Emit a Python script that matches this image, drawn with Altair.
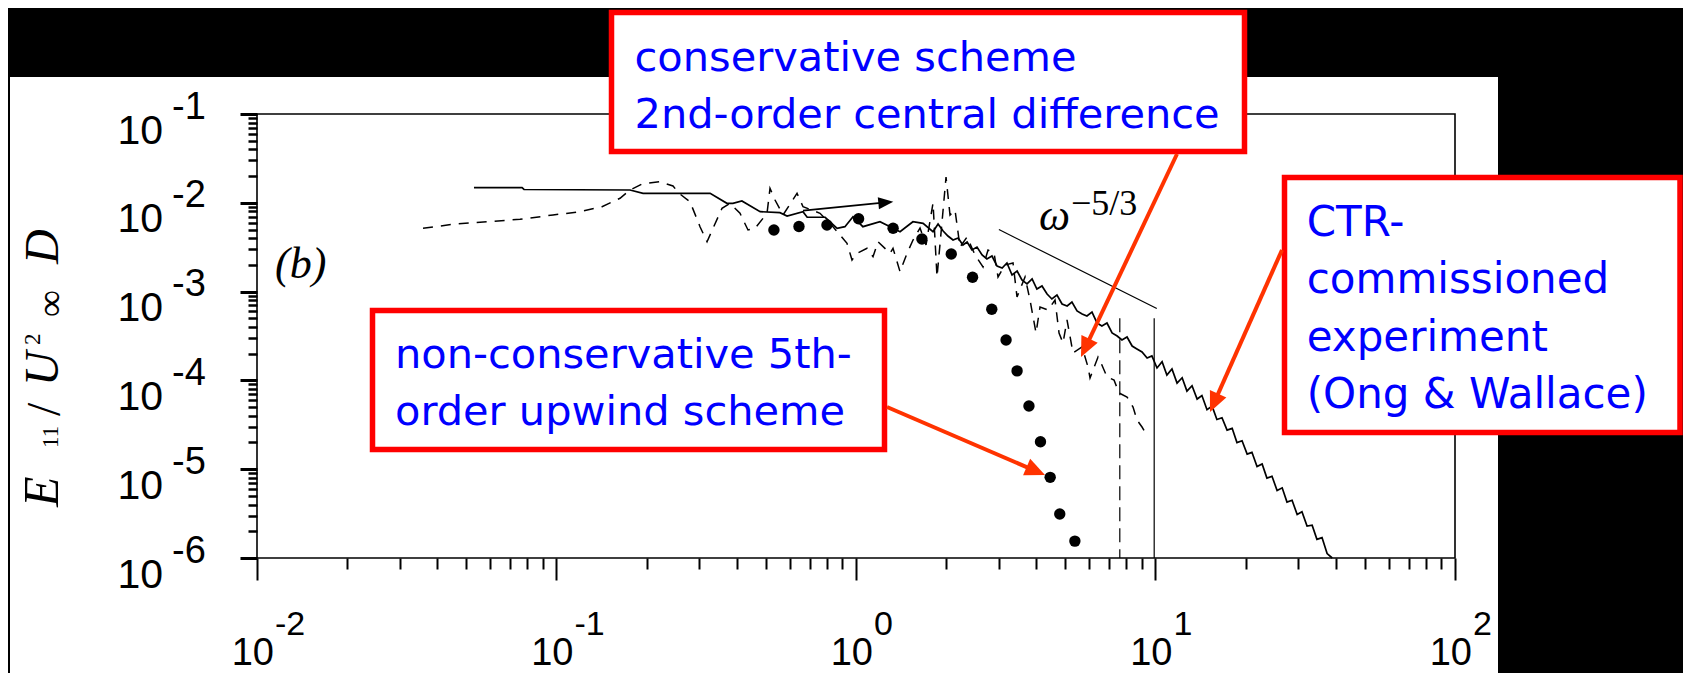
import math
import altair as alt
import pandas as pd

# ---------------- values ----------------
# CTR-commissioned experiment (solid line): log10(omega), log10(E11/U^2 D)
ctr_log_omega = [
    -1.2755, -1.115, -1.1085, -0.7546, -0.711, -0.487, -0.431, -0.411, -0.381, -0.320,
    -0.254, -0.230, -0.177, -0.163, -0.103, -0.063, -0.037, -0.010, 0.023, 0.080,
    0.114, 0.147, 0.190, 0.224, 0.257, 0.274, 0.291, 0.307, 0.324, 0.341,
    0.357, 0.371, 0.387, 0.404, 0.421, 0.437, 0.454, 0.471, 0.488, 0.504,
    0.521, 0.538, 0.554, 0.571, 0.588, 0.604, 0.621, 0.638, 0.654, 0.671,
    0.688, 0.705, 0.721, 0.738, 0.755, 0.771, 0.788, 0.805, 0.821, 0.838,
    0.855, 0.872, 0.888, 0.905, 0.922, 0.938, 0.955, 0.972, 0.988, 1.005,
    1.022, 1.038, 1.055, 1.072, 1.089, 1.105, 1.122, 1.139, 1.155, 1.172,
    1.189, 1.205, 1.222, 1.239, 1.256, 1.272, 1.289, 1.306, 1.322, 1.339,
    1.356, 1.372, 1.389, 1.406, 1.423, 1.439, 1.456, 1.473, 1.489, 1.506,
    1.523, 1.539, 1.556, 1.573, 1.590,
]
ctr_log_energy = [
    -1.830, -1.830, -1.850, -1.856, -1.893, -1.893, -2.006, -2.006, -1.980, -2.100,
    -2.111, -2.149, -2.100, -2.163, -2.163, -2.287, -2.269, -2.157, -2.269, -2.213,
    -2.269, -2.325, -2.213, -2.231, -2.325, -2.239, -2.318, -2.374, -2.419, -2.396,
    -2.475, -2.441, -2.531, -2.498, -2.588, -2.633, -2.599, -2.712, -2.734, -2.678,
    -2.813, -2.768, -2.869, -2.914, -2.858, -2.971, -2.937, -3.027, -3.083, -3.038,
    -3.140, -3.162, -3.117, -3.218, -3.252, -3.275, -3.230, -3.354, -3.387, -3.354,
    -3.466, -3.500, -3.545, -3.511, -3.613, -3.646, -3.680, -3.748, -3.725, -3.860,
    -3.790, -3.940, -3.870, -4.030, -3.970, -4.120, -4.060, -4.210, -4.170, -4.330,
    -4.290, -4.440, -4.420, -4.560, -4.540, -4.700, -4.680, -4.830, -4.810, -4.970,
    -4.940, -5.100, -5.080, -5.240, -5.210, -5.370, -5.350, -5.510, -5.480, -5.640,
    -5.630, -5.790, -5.770, -5.950, -6.000,
]

# conservative 2nd-order central difference (dashed line): log10 values
cds_log_omega = [
    -1.4457, -1.3456, -1.232, -1.1218, -1.0117, -0.9215, -0.848, -0.7879, -0.7546, -0.7145,
    -0.6544, -0.611, -0.5909, -0.5542, -0.5208, -0.4974, -0.4774, -0.4474, -0.4207, -0.3873,
    -0.3606, -0.3372, -0.2971, -0.2871, -0.2704, -0.2437, -0.1969, -0.1769, -0.1201, -0.0767,
    -0.03, -0.0133, 0.0034, 0.0368, 0.0568, 0.0735, 0.1136, 0.1236, 0.147, 0.1704,
    0.1904, 0.2138, 0.2338, 0.2572, 0.2705, 0.2872, 0.3006, 0.3139, 0.3306, 0.3473,
    0.3707, 0.3974, 0.4241, 0.4408, 0.4608, 0.4742, 0.4976, 0.5243, 0.5376, 0.5644,
    0.581, 0.6011, 0.6144, 0.6411, 0.6645, 0.6779, 0.6912, 0.7046, 0.7246, 0.7547,
    0.7747, 0.7814, 0.8081, 0.8181, 0.8382, 0.8615, 0.8782, 0.9049, 0.925, 0.9383,
    0.955, 0.965,
]
cds_log_energy = [
    -2.2871, -2.2421, -2.2128, -2.1858, -2.1374, -2.1002, -2.0439, -1.9493, -1.8558, -1.7883,
    -1.7624, -1.8108, -1.893, -1.9876, -2.2691, -2.438, -2.2871, -2.0619, -2.0056, -2.1182,
    -2.3063, -2.2871, -2.1182, -1.8367, -1.9684, -2.1374, -1.893, -2.0439, -2.1182, -2.2691,
    -2.456, -2.6441, -2.5687, -2.5124, -2.6069, -2.438, -2.5687, -2.5124, -2.7759, -2.5687,
    -2.4189, -2.2838, -2.4752, -2.0022, -2.8355, -2.2162, -1.7094, -2.1374, -2.0811, -2.4977,
    -2.3851, -2.5878, -2.7229, -2.5315, -2.5653, -2.8355, -2.7004, -2.6779, -3.0608, -2.8355,
    -3.0945, -3.4662, -3.1734, -3.2072, -3.0945, -3.4662, -3.5788, -3.3198, -3.6914, -3.6238,
    -3.849, -3.9729, -3.7364, -3.804, -3.9616, -3.9954, -4.1418, -4.1869, -4.2995, -4.4459,
    -4.5247, -4.581,
]

# non-conservative 5th-order upwind (filled circles)
upwind_omega = [0.532, 0.645, 0.800, 1.02, 1.33, 1.66, 2.08, 2.45,
                2.84, 3.17, 3.45, 3.78, 4.13, 4.45, 4.79, 5.38]
upwind_energy = [4.94e-3, 5.41e-3, 5.62e-3, 6.62e-3, 5.16e-3, 3.91e-3, 2.65e-3, 1.45e-3,
                 6.32e-4, 2.85e-4, 1.28e-4, 5.15e-5, 2.04e-5, 8.1e-6, 3.13e-6, 1.55e-6]

# omega^(-5/3) reference segment
slope_omega = [3.0, 10.1]
slope_energy = [5.0e-3, 6.45e-4]

# cut-off markers
cutoff_dashed_omega = [7.6]
cutoff_solid_omega = [9.9]
cutoff_top_energy = [5.0e-4]

# axis ticks and labels
x_major = [0.01, 0.1, 1, 10, 100]
x_exponents = ["-2", "-1", "0", "1", "2"]
y_major = [1e-1, 1e-2, 1e-3, 1e-4, 1e-5, 1e-6]
y_exponents = ["-1", "-2", "-3", "-4", "-5", "-6"]
x_minor = [m * d for d in (0.01, 0.1, 1, 10) for m in range(2, 10)]
y_minor = [m * d for d in (1e-6, 1e-5, 1e-4, 1e-3, 1e-2) for m in range(2, 10)]

box_texts = {
    "cds": ["conservative scheme", "2nd-order central difference"],
    "up": ["non-conservative 5th-", "order upwind scheme"],
    "ctr": ["CTR-", "commissioned", "experiment", "(Ong & Wallace)"],
}

# ---------------- layout ----------------
W, H = 1198, 444
RED = "#FF0000"
ARROW = "#FF3300"
BLUE = "#0000FF"
SANS = "DejaVu Sans"
TICKFONT = "Liberation Sans, Arial, sans-serif"
SERIF = "Liberation Serif, DejaVu Serif, serif"

xscale = alt.Scale(type="log", domain=[0.01, 100], nice=False)
yscale = alt.Scale(type="log", domain=[1e-6, 0.1], nice=False)


def axis(orient, values, size, width):
    return alt.Axis(orient=orient, values=values, tickSize=size, tickWidth=width,
                    tickColor="black", labels=False, domain=False, grid=False,
                    title=None, zindex=1)


one = pd.DataFrame({"k": [0]})


def px_rect(x1, y1, x2, y2, **mk):
    return alt.Chart(one).mark_rect(**mk).encode(
        x=alt.value(x1), x2=alt.value(x2), y=alt.value(y1), y2=alt.value(y2))


def px_text(x, y, text, **mk):
    return alt.Chart(one).mark_text(text=text, **mk).encode(x=alt.value(x), y=alt.value(y))


def px_arrow(x1, y1, x2, y2, color, width, head_len, head_w):
    dx, dy = x2 - x1, y2 - y1
    L = math.hypot(dx, dy)
    ux, uy = dx / L, dy / L
    unit = head_len / 2.0
    cx, cy = x2 - ux * unit, y2 - uy * unit
    ang = math.degrees(math.atan2(dx, -dy)) % 360
    w = head_w / 2.0 / unit
    path = f"M0,-1L{w:.3f},1L{-w:.3f},1Z"
    shaft = alt.Chart(one).mark_rule(color=color, strokeWidth=width).encode(
        x=alt.value(x1), y=alt.value(y1), x2=alt.value(cx), y2=alt.value(cy))
    head = alt.Chart(one).mark_point(shape=path, filled=True, color=color, opacity=1,
                                     size=(2 * unit) ** 2, angle=ang, strokeWidth=0).encode(
        x=alt.value(cx), y=alt.value(cy))
    return [shaft, head]


ctr = pd.DataFrame({"x": [10 ** v for v, _ in zip(ctr_log_omega, ctr_log_energy)],
                    "y": [10 ** e for _, e in zip(ctr_log_omega, ctr_log_energy)]})
ctr["i"] = range(len(ctr))
cds = pd.DataFrame({"x": [10 ** v for v, _ in zip(cds_log_omega, cds_log_energy)],
                    "y": [10 ** e for _, e in zip(cds_log_omega, cds_log_energy)]})
cds["i"] = range(len(cds))
up = pd.DataFrame({"x": upwind_omega, "y": upwind_energy})
slope = pd.DataFrame({"x": slope_omega, "y": slope_energy})
cut_d = pd.DataFrame({"x": cutoff_dashed_omega, "y": cutoff_top_energy})
cut_s = pd.DataFrame({"x": cutoff_solid_omega, "y": cutoff_top_energy})
xt = pd.DataFrame({"x": x_major, "e": x_exponents})
yt = pd.DataFrame({"y": y_major, "e": y_exponents})

X = lambda ax=None: alt.X("x:Q", scale=xscale, axis=ax)
Y = lambda ax=None: alt.Y("y:Q", scale=yscale, axis=ax)

layers = []
# white panel
layers.append(px_rect(-247, -37, 1241, 570, fill="white", strokeWidth=0))

# data
layers.append(alt.Chart(ctr).mark_line(color="black", strokeWidth=1.7).encode(
    x=X(axis("bottom", x_major, 22, 2)), y=Y(axis("left", y_major, 17, 3)), order="i:Q"))
layers.append(alt.Chart(up).mark_point(shape="circle", filled=True, color="black",
                                       size=130, opacity=1).encode(
    x=X(axis("bottom", x_minor, 11, 2)), y=Y(axis("left", y_minor, 9, 2.5))))
layers.append(alt.Chart(cds).mark_line(color="black", strokeWidth=1.5,
                                       strokeDash=[10, 8]).encode(
    x=X(), y=Y(), order="i:Q"))
layers.append(alt.Chart(slope).mark_line(color="black", strokeWidth=1.2).encode(x=X(), y=Y()))
layers.append(alt.Chart(cut_d).mark_rule(color="black", strokeWidth=1.2,
                                         strokeDash=[14, 7]).encode(
    x=X(), y=Y(), y2=alt.value(H)))
layers.append(alt.Chart(cut_s).mark_rule(color="black", strokeWidth=1.2).encode(
    x=X(), y=Y(), y2=alt.value(H)))

# tick labels: "10" plus a raised exponent
layers.append(alt.Chart(xt).mark_text(text="10", font=TICKFONT, fontSize=38, align="right",
                                      baseline="alphabetic", dx=17, color="black").encode(
    x=X(), y=alt.value(550.5)))
layers.append(alt.Chart(xt).mark_text(font=TICKFONT, fontSize=34, align="left",
                                      baseline="alphabetic", dx=18, color="black").encode(
    x=X(), y=alt.value(521), text="e:N"))
layers.append(alt.Chart(yt).mark_text(text="10", font=TICKFONT, fontSize=41, align="right",
                                      baseline="alphabetic", dy=29.5, color="black").encode(
    y=Y(), x=alt.value(-94)))
layers.append(alt.Chart(yt).mark_text(font=TICKFONT, fontSize=38, align="left",
                                      baseline="alphabetic", dy=4.5, color="black").encode(
    y=Y(), x=alt.value(-85), text="e:N"))

# y-axis title  E11 / U^2_inf D  (rotated)
rot = dict(angle=270, align="left", baseline="alphabetic", color="black", font=SERIF)
layers.append(px_text(-199, 393, "E", fontSize=50, fontStyle="italic", **rot))
layers.append(px_text(-199, 334, "11", fontSize=23, **rot))
layers.append(px_text(-197, 302, "/", fontSize=48, **rot))
layers.append(px_text(-199, 272, "U", fontSize=48, fontStyle="italic", **rot))
layers.append(px_text(-217, 231, "2", fontSize=23, **rot))
layers.append(px_text(-194, 203, "\u221e", fontSize=38, **rot))
layers.append(px_text(-199, 150, "D", fontSize=48, fontStyle="italic", **rot))

# panel label and slope label
layers.append(px_text(18, 164, "(b)", font=SERIF, fontSize=44, fontStyle="italic",
                      align="left", baseline="alphabetic", color="black"))
layers.append(px_text(782, 116, "\u03c9", font=SERIF, fontSize=44, fontStyle="italic",
                      align="left", baseline="alphabetic", color="black"))
layers.append(px_text(814, 101, "\u22125/3", font=SERIF, fontSize=36,
                      align="left", baseline="alphabetic", color="black"))

# frame
layers.append(px_rect(0, 0, W, H, filled=False, stroke="black", strokeWidth=1.6))

# black arrow in the figure
layers += px_arrow(546, 96.7, 636.3, 87.7, "black", 1.8, 15, 12)

# annotation boxes
layers.append(px_rect(354.5, -101.5, 987.5, 37.5, fill="white", stroke=RED, strokeWidth=5.5))
layers.append(px_rect(115.5, 196.5, 627.5, 335.5, fill="white", stroke=RED, strokeWidth=5.5))
layers.append(px_rect(1027.5, 63.5, 1423, 318.5, fill="white", stroke=RED, strokeWidth=5.5))
tx = dict(font=SANS, color=BLUE, align="left", baseline="alphabetic")
layers.append(px_text(377.5, -43.3, box_texts["cds"], fontSize=41.5, lineHeight=57.6, **tx))
layers.append(px_text(138, 254, box_texts["up"], fontSize=41.5, lineHeight=57, **tx))
layers.append(px_text(1049.7, 122, box_texts["ctr"], fontSize=42, lineHeight=57.3, **tx))

# red arrows
layers += px_arrow(920, 40, 824, 243, ARROW, 4, 20, 18)
layers += px_arrow(630, 293, 788, 361, ARROW, 4, 20, 18)
layers += px_arrow(1025, 136, 953, 298, ARROW, 4, 20, 18)

chart = alt.layer(*layers).resolve_axis(x="independent", y="independent").properties(
    width=W, height=H,
    autosize=alt.AutoSizeParams(type="none"),
    padding={"left": 249, "top": 106, "right": 228, "bottom": 115},
    background="black",
).configure_view(strokeWidth=0)

chart.save("out.html", embed_options={"renderer": "svg", "actions": False})
